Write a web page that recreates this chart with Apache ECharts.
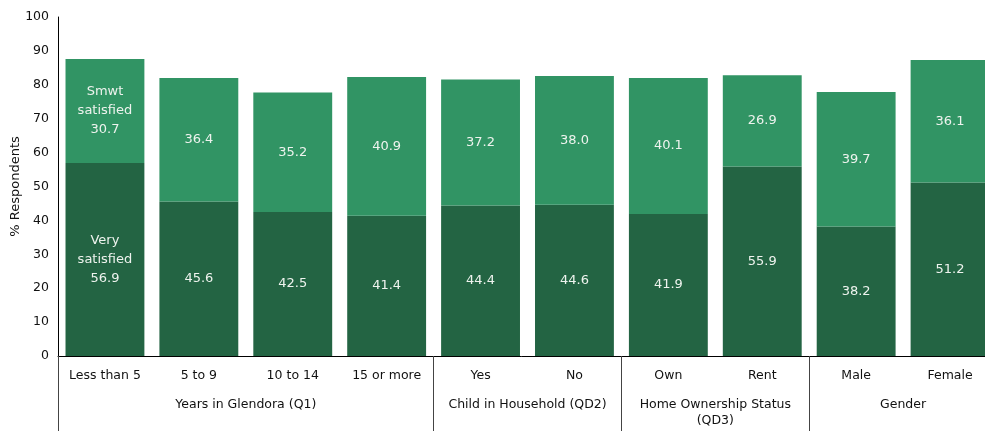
<!DOCTYPE html>
<html>
<head>
<meta charset="utf-8">
<script src="https://cdn.jsdelivr.net/npm/echarts@6/dist/echarts.min.js"></script>
<style>html,body{margin:0;padding:0;background:#fff}#c{width:985px;height:431px}</style>
</head>
<body>
<div id="c"></div>
<script>
// Satisfaction by respondent group
const categories = ['Less than 5', '5 to 9', '10 to 14', '15 or more', 'Yes', 'No', 'Own', 'Rent', 'Male', 'Female'];
const verySatisfied = [56.9, 45.6, 42.5, 41.4, 44.4, 44.6, 41.9, 55.9, 38.2, 51.2];
const smwtSatisfied = [30.7, 36.4, 35.2, 40.9, 37.2, 38.0, 40.1, 26.9, 39.7, 36.1];
const groupNames = ['Years in Glendora (Q1)', 'Child in Household (QD2)', 'Home Ownership Status\n(QD3)', 'Gender'];
const groupBounds = [0, 4, 6, 8, 10];
const groupCenters = [2, 5, 7, 9];
const yTicks = [0, 10, 20, 30, 40, 50, 60, 70, 80, 90, 100];

const FONT = 'DejaVu Sans';
const DARK = '#236443';
const LIGHT = '#319464';

const chart = echarts.init(document.getElementById('c'));

function labelFor(prefix) {
  return function (p) {
    const v = p.value.toFixed(1);
    return p.dataIndex === 0 ? prefix + '\n' + v : v;
  };
}

chart.setOption({
  animation: false,
  grid: { left: 58, right: -12, top: 17, bottom: 75, containLabel: false, outerBoundsMode: 'none' },
  xAxis: [
    {
      type: 'category',
      data: categories,
      position: 'bottom',
      axisLine: { show: true, lineStyle: { color: '#000', width: 1 } },
      axisTick: { show: false },
      axisLabel: { color: '#111', fontFamily: FONT, fontSize: 12.5, margin: 13 }
    },
    {
      type: 'value',
      min: 0,
      max: 10,
      position: 'bottom',
      axisLine: { show: false },
      splitLine: { show: false },
      axisTick: { show: true, customValues: groupBounds, length: 76, lineStyle: { color: '#444', width: 1 } },
      axisLabel: {
        show: true,
        customValues: groupCenters,
        margin: 41,
        color: '#111',
        fontFamily: FONT,
        fontSize: 12.5,
        lineHeight: 16,
        verticalAlign: 'top',
        formatter: function (v) { return groupNames[groupCenters.indexOf(v)]; }
      }
    }
  ],
  yAxis: {
    type: 'value',
    min: 0,
    max: 100,
    interval: 10,
    name: '% Respondents',
    nameLocation: 'middle',
    nameGap: 36,
    nameMoveOverlap: false,
    nameTextStyle: { color: '#111', fontFamily: FONT, fontSize: 13 },
    axisLine: { show: true, lineStyle: { color: '#000', width: 1 } },
    axisTick: { show: false },
    splitLine: { show: false },
    axisLabel: { color: '#111', fontFamily: FONT, fontSize: 12.5, margin: 9,
      formatter: function (v) { return yTicks.indexOf(v) >= 0 ? String(v) : ''; } }
  },
  series: [
    {
      name: 'Very satisfied',
      type: 'bar',
      stack: 'sat',
      data: verySatisfied,
      barCategoryGap: '16%',
      itemStyle: { color: DARK },
      label: {
        show: true, position: 'inside', color: '#eef3ee', fontFamily: FONT, fontSize: 13, lineHeight: 19,
        formatter: labelFor('Very\nsatisfied')
      }
    },
    {
      name: 'Smwt satisfied',
      type: 'bar',
      stack: 'sat',
      data: smwtSatisfied,
      barCategoryGap: '16%',
      itemStyle: { color: LIGHT },
      label: {
        show: true, position: 'inside', color: '#eef3ee', fontFamily: FONT, fontSize: 13, lineHeight: 19,
        formatter: labelFor('Smwt\nsatisfied')
      }
    }
  ]
});
</script>
</body>
</html>
